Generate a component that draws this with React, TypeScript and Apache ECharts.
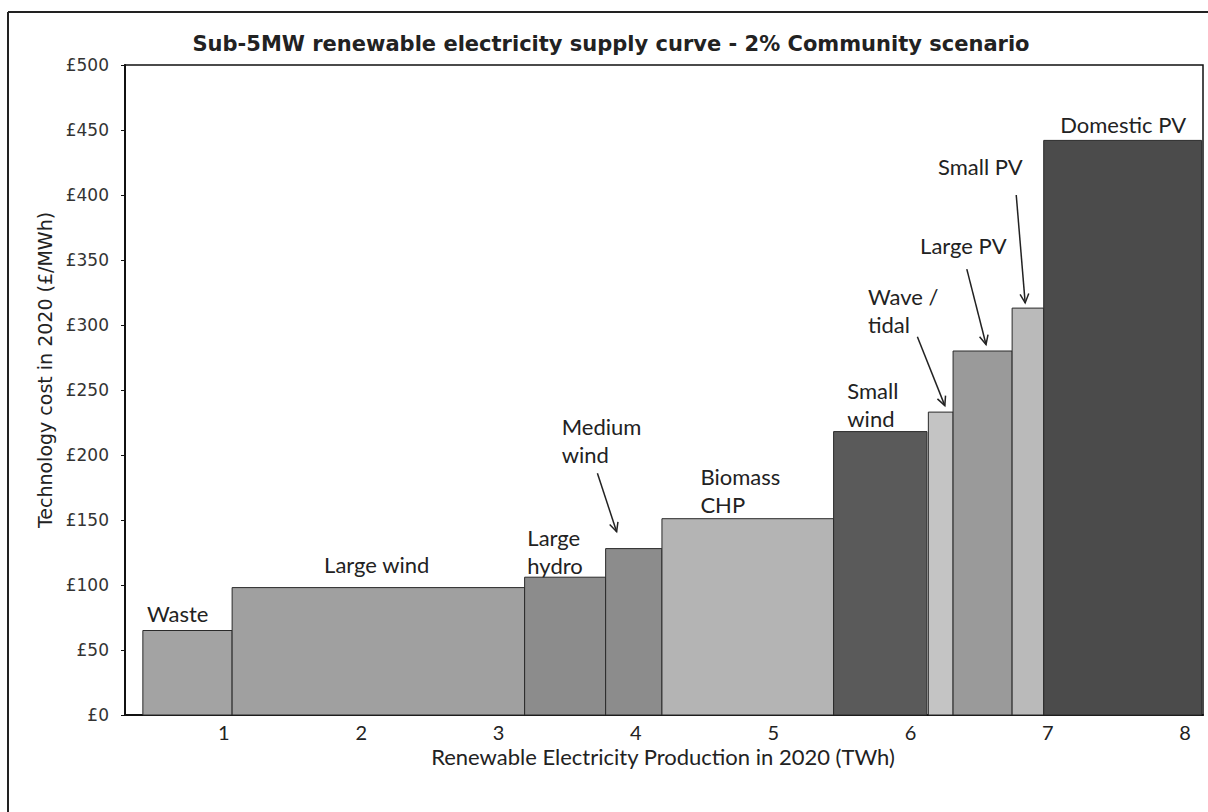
import React, { useEffect, useRef } from "react";
import * as echarts from "echarts";

// ---- data ----
const technologies = [
  "Waste",
  "Large wind",
  "Large hydro",
  "Medium wind",
  "Biomass CHP",
  "Small wind",
  "Wave / tidal",
  "Large PV",
  "Small PV",
  "Domestic PV",
];
const startTWh = [0.41, 1.06, 3.19, 3.78, 4.19, 5.44, 6.13, 6.31, 6.74, 6.97];
const endTWh = [1.06, 3.19, 3.78, 4.19, 5.44, 6.12, 6.31, 6.74, 6.97, 8.12];
const costs = [65, 98, 106, 128, 151, 218, 233, 280, 313, 442];

const xTickLabels = [1, 2, 3, 4, 5, 6, 7, 8];

// annotation texts (anchored in data coordinates)
const labelTexts = [
  "Waste",
  "Large wind",
  "Large\nhydro",
  "Medium\nwind",
  "Biomass\nCHP",
  "Small\nwind",
  "Wave /\ntidal",
  "Large PV",
  "Small PV",
  "Domestic PV",
];
const labelX = [0.44, 1.73, 3.21, 3.46, 4.47, 5.54, 5.69, 6.07, 6.2, 7.09];
const labelY = [78, 116, 126, 211, 173, 239, 311, 361, 422, 454];

// arrows: Medium wind, Wave / tidal, Large PV, Small PV
const arrowFromX = [3.72, 6.05, 6.41, 6.77];
const arrowFromY = [186, 291, 343, 400];
const arrowToX = [3.86, 6.25, 6.55, 6.835];
const arrowToY = [141, 238, 285, 317];

// ---- styles ----
const barColors = [
  "#a3a3a3",
  "#a0a0a0",
  "#8c8c8c",
  "#8c8c8c",
  "#b4b4b4",
  "#5a5a5a",
  "#c4c4c4",
  "#9a9a9a",
  "#bababa",
  "#4b4b4b",
];
const labelFont = "Lato, 'Open Sans', sans-serif";

export default function App() {
  const ref = useRef<HTMLDivElement>(null);

  useEffect(() => {
    if (!ref.current) return;
    const chart = echarts.init(ref.current, undefined, { renderer: "svg" });

    const option: any = {
      animation: false,
      backgroundColor: "#ffffff",
      grid: {
        left: 125,
        top: 65,
        right: 5,
        bottom: 97,
        show: true,
        borderColor: "#111",
        borderWidth: 1.5,
        backgroundColor: "transparent",
      },
      xAxis: {
        type: "value",
        min: 0.28,
        max: 8.13,
        axisLine: { show: true, onZero: false, lineStyle: { color: "#111", width: 2 } },
        axisTick: { show: false },
        splitLine: { show: false },
        axisLabel: {
          customValues: xTickLabels,
          margin: 7,
          fontFamily: labelFont,
          fontSize: 20,
          lineHeight: 20,
          color: "#222",
        },
      },
      yAxis: {
        type: "value",
        min: 0,
        max: 500,
        interval: 50,
        axisLine: { show: true, lineStyle: { color: "#111", width: 2 } },
        axisTick: { show: true, length: 4, lineStyle: { color: "#111" } },
        splitLine: { show: false },
        axisLabel: {
          formatter: "£{value}",
          margin: 16,
          fontFamily: "'DejaVu Sans', Verdana, sans-serif",
          fontSize: 17,
          color: "#333",
        },
      },
      series: [
        {
          type: "custom",
          data: technologies.map((_, i) => [startTWh[i], endTWh[i], costs[i]]),
          encode: { x: [0, 1], y: 2 },
          renderItem: (params: any, api: any) => {
            const x0 = api.value(0);
            const x1 = api.value(1);
            const v = api.value(2);
            const p0 = api.coord([x0, v]);
            const p1 = api.coord([x1, 0]);
            return {
              type: "rect",
              shape: { x: p0[0], y: p0[1], width: p1[0] - p0[0], height: p1[1] - p0[1] },
              style: { fill: barColors[params.dataIndex], stroke: "#2a2a2a", lineWidth: 1 },
            };
          },
        },
      ],
    };
    chart.setOption(option);

    const toPx = (x: number, y: number) =>
      chart.convertToPixel({ gridIndex: 0 }, [x, y]) as number[];

    const graphics: any[] = [];
    // outer frame (top and left edges visible)
    graphics.push({
      type: "line",
      shape: { x1: 8, y1: 12, x2: 1208, y2: 12 },
      style: { stroke: "#222", lineWidth: 2 },
    });
    graphics.push({
      type: "line",
      shape: { x1: 8, y1: 12, x2: 8, y2: 812 },
      style: { stroke: "#222", lineWidth: 2 },
    });
    // title
    graphics.push({
      type: "text",
      x: 611,
      y: 44,
      style: {
        text: "Sub-5MW renewable electricity supply curve - 2% Community scenario",
        font: "bold 21px 'DejaVu Sans', Verdana, sans-serif",
        fill: "#222",
        align: "center",
        verticalAlign: "middle",
      },
    });
    // y axis name
    graphics.push({
      type: "text",
      x: 45,
      y: 370,
      rotation: Math.PI / 2,
      style: {
        text: "Technology cost in 2020 (£/MWh)",
        font: "19px 'DejaVu Sans', Verdana, sans-serif",
        fill: "#222",
        align: "center",
        verticalAlign: "middle",
      },
    });
    // x axis name
    graphics.push({
      type: "text",
      x: 663,
      y: 756,
      style: {
        text: "Renewable Electricity Production in 2020 (TWh)",
        font: `22px ${labelFont}`,
        lineHeight: 22,
        fill: "#222",
        align: "center",
        verticalAlign: "middle",
      },
    });
    // bar labels
    labelTexts.forEach((t, i) => {
      const p = toPx(labelX[i], labelY[i]);
      graphics.push({
        type: "text",
        x: p[0],
        y: p[1],
        style: {
          text: t,
          font: `22px ${labelFont}`,
          lineHeight: 28,
          fill: "#222",
          align: "left",
          verticalAlign: "middle",
        },
      });
    });
    // arrows
    arrowFromX.forEach((_, i) => {
      const a = toPx(arrowFromX[i], arrowFromY[i]);
      const b = toPx(arrowToX[i], arrowToY[i]);
      graphics.push({
        type: "line",
        shape: { x1: a[0], y1: a[1], x2: b[0], y2: b[1] },
        style: { stroke: "#222", lineWidth: 1.5 },
      });
      const ang = Math.atan2(b[1] - a[1], b[0] - a[0]);
      const len = 10;
      const spread = 0.45;
      const h1 = [b[0] - len * Math.cos(ang - spread), b[1] - len * Math.sin(ang - spread)];
      const h2 = [b[0] - len * Math.cos(ang + spread), b[1] - len * Math.sin(ang + spread)];
      graphics.push({
        type: "polyline",
        shape: { points: [h1, b, h2] },
        style: { stroke: "#222", lineWidth: 1.5, fill: null },
      });
    });

    chart.setOption({ graphic: graphics });

    return () => chart.dispose();
  }, []);

  return (
    <div
      ref={ref}
      style={{ position: "fixed", left: 0, top: 0, width: 1208, height: 812, background: "#fff" }}
    />
  );
}
